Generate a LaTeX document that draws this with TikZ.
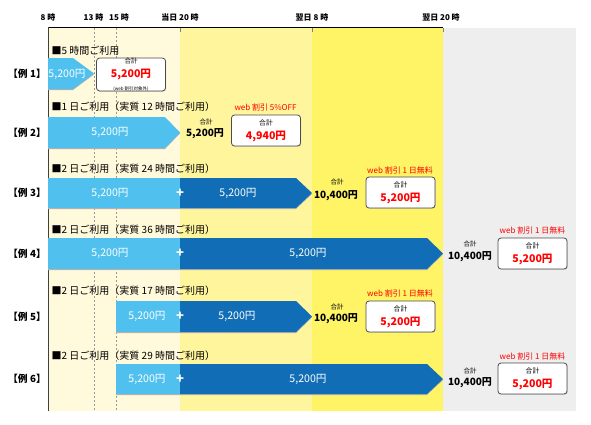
\documentclass[tikz,border=0pt]{standalone}
\usepackage{fontspec}
\setmainfont{Noto Sans CJK JP}
\usetikzlibrary{shadows}
\definecolor{cream}{HTML}{FFFADC}
\definecolor{lyel}{HTML}{FFF59D}
\definecolor{yel}{HTML}{FFF366}
\definecolor{bggray}{HTML}{EEEEEE}
\definecolor{lblue}{HTML}{50C1EE}
\definecolor{dblue}{HTML}{116EB6}
\definecolor{jred}{HTML}{FF0000}
\tikzset{
  toplab/.style={font=\bfseries\fontsize{8}{8}\selectfont, inner sep=0},
  rowlab/.style={font=\bfseries\fontsize{9.8}{9.8}\selectfont, inner sep=0},
  hdr/.style={anchor=west, font=\fontsize{10}{10}\selectfont, inner sep=0},
  price/.style={text=white, font=\fontsize{10.6}{10.6}\selectfont, inner sep=0},
  plus/.style={text=white, font=\bfseries\fontsize{13}{13}\selectfont, inner sep=0},
  goukei/.style={font=\fontsize{6.5}{6.5}\selectfont, inner sep=0},
  total/.style={font=\bfseries\fontsize{10}{10}\selectfont, inner sep=0},
  redlab/.style={text=jred, font=\fontsize{8}{8}\selectfont, inner sep=0},
  sumbox/.style={draw=black!70, fill=white, line width=0.8pt, rounded corners=3pt,
     minimum width=69pt, minimum height=31pt, inner sep=0, align=center,
     drop shadow={shadow xshift=0.7pt, shadow yshift=-0.7pt, fill=black!30, opacity=0.6}},
  lb/.style={fill=lblue},
  db/.style={fill=dblue},
  ash/.style={fill=black!30, yshift=-1pt},
}
\newcommand{\boxtxt}[1]{{\fontsize{6.8}{6.8}\selectfont 合計}\\[2pt]{\color{jred}\bfseries\fontsize{10.6}{10.6}\selectfont #1}}
\begin{document}
\begin{tikzpicture}[x=1pt,y=-1pt]
\useasboundingbox (0,0) rectangle (591,424);
% backgrounds
\fill[cream] (48,28) rectangle (180,411);
\fill[lyel] (180,28) rectangle (312,411);
\fill[yel] (312,28) rectangle (443,411);
\fill[bggray] (443,28) rectangle (576,411);
\draw[black!40, dash pattern=on 2pt off 2pt, line width=0.5pt] (94,28) -- (94,411);
\draw[black!40, dash pattern=on 2pt off 2pt, line width=0.5pt] (116,28) -- (116,411);
\draw[black, line width=1.2pt] (48,27.5) -- (443,27.5);
\draw[black!75, line width=1pt] (48,27) -- (48,411);
\foreach \xx in {180,312,443} \draw[black!50, line width=1pt] (\xx,28) -- (\xx,32);
% top labels
\node[toplab] (t8) at (48,17) {8 時};
\node[toplab] (t13) at (93.5,17) {13 時};
\node[toplab] (t15) at (119,17) {15 時};
\node[toplab] (t20) at (180,17) {当日 20 時};
\node[toplab] (n8) at (312,17) {翌日 8 時};
\node[toplab] (n20) at (441,17) {翌日 20 時};
% row labels
\node[rowlab] (r1) at (27,73.5) {【例 1】};
\node[rowlab] (r2) at (27,132.5) {【例 2】};
\node[rowlab] (r3) at (27,193) {【例 3】};
\node[rowlab] (r4) at (27,253.5) {【例 4】};
\node[rowlab] (r5) at (27,316.5) {【例 5】};
\node[rowlab] (r6) at (27,379) {【例 6】};
% headers
\node[hdr] (h1) at (51.5,51) {■5 時間ご利用};
\node[hdr] (h2) at (51.5,107) {■1 日ご利用（実質 12 時間ご利用）};
\node[hdr] (h3) at (51.5,169) {■2 日ご利用（実質 24 時間ご利用）};
\node[hdr] (h4) at (51.5,230) {■2 日ご利用（実質 36 時間ご利用）};
\node[hdr] (h5) at (51.5,291) {■2 日ご利用（実質 17 時間ご利用）};
\node[hdr] (h6) at (51.5,356) {■2 日ご利用（実質 29 時間ご利用）};
% row 1
\fill[ash] (48,58) -- (73,58) -- (94,73.5) -- (73,89) -- (48,89) -- cycle;
\fill[lb] (48,58) -- (73,58) -- (94,73.5) -- (73,89) -- (48,89) -- cycle;
\node[price] (p1) at (67,74) {5,200円};
\node[sumbox] (b1) at (131,74.5) {{\fontsize{6.5}{6.5}\selectfont 合計}\\[1.5pt]{\color{jred}\bfseries\fontsize{10.6}{10.6}\selectfont 5,200円}\\[1pt]{\fontsize{4.5}{4.5}\selectfont (web 割引対象外)}};
% row 2
\fill[ash] (48,117) -- (165,117) -- (180,132.5) -- (165,148) -- (48,148) -- cycle;
\fill[lb] (48,117) -- (165,117) -- (180,132.5) -- (165,148) -- (48,148) -- cycle;
\node[price] (p2) at (110,132.5) {5,200円};
\node[goukei] (g2) at (206,122) {合計};
\node[total] (s2) at (205,134) {5,200円};
\node[redlab] (w2) at (265.5,107) {web 割引 5\%OFF};
\node[sumbox] (b2) at (266,130.5) {\boxtxt{4,940円}};
% row 3
\fill[ash] (48,178) -- (296,178) -- (312,193) -- (296,208) -- (48,208) -- cycle;
\fill[lb] (48,178) rectangle (180,208);
\fill[db] (180,178) -- (296,178) -- (312,193) -- (296,208) -- (180,208) -- cycle;
\node[price] (p3a) at (110,193) {5,200円};
\node[plus] (x3) at (180,193) {+};
\node[price] (p3b) at (238,193) {5,200円};
\node[goukei] (g3) at (337,182) {合計};
\node[total] (s3) at (336,196) {10,400円};
\node[redlab] (w3) at (400,170) {web 割引 1 日無料};
\node[sumbox] (b3) at (400.5,192.5) {\boxtxt{5,200円}};
% row 4
\fill[ash] (48,238) -- (427,238) -- (443,253.5) -- (427,269) -- (48,269) -- cycle;
\fill[lb] (48,238) rectangle (180,269);
\fill[db] (180,238) -- (427,238) -- (443,253.5) -- (427,269) -- (180,269) -- cycle;
\node[price] (p4a) at (110,253.5) {5,200円};
\node[plus] (x4) at (180,253.5) {+};
\node[price] (p4b) at (308,253.5) {5,200円};
\node[goukei] (g4) at (470,244) {合計};
\node[total] (s4) at (470,257) {10,400円};
\node[redlab] (w4) at (532.5,230) {web 割引 1 日無料};
\node[sumbox] (b4) at (532.5,253.5) {\boxtxt{5,200円}};
% row 5
\fill[ash] (116,301) -- (296,301) -- (312,316.5) -- (296,332) -- (116,332) -- cycle;
\fill[lb] (116,301) rectangle (180,332);
\fill[db] (180,301) -- (296,301) -- (312,316.5) -- (296,332) -- (180,332) -- cycle;
\node[price] (p5a) at (147,316.5) {5,200円};
\node[plus] (x5) at (180,316.5) {+};
\node[price] (p5b) at (237,316.5) {5,200円};
\node[goukei] (g5) at (337,307) {合計};
\node[total] (s5) at (336,319) {10,400円};
\node[redlab] (w5) at (400,293) {web 割引 1 日無料};
\node[sumbox] (b5) at (400.5,316.5) {\boxtxt{5,200円}};
% row 6
\fill[ash] (116,364) -- (427,364) -- (443,379) -- (427,394) -- (116,394) -- cycle;
\fill[lb] (116,364) rectangle (180,394);
\fill[db] (180,364) -- (427,364) -- (443,379) -- (427,394) -- (180,394) -- cycle;
\node[price] (p6a) at (147,379) {5,200円};
\node[plus] (x6) at (180,379) {+};
\node[price] (p6b) at (308,379) {5,200円};
\node[goukei] (g6) at (470,371) {合計};
\node[total] (s6) at (470,383) {10,400円};
\node[redlab] (w6) at (532.5,356) {web 割引 1 日無料};
\node[sumbox] (b6) at (532.5,378.5) {\boxtxt{5,200円}};
\end{tikzpicture}
\end{document}
